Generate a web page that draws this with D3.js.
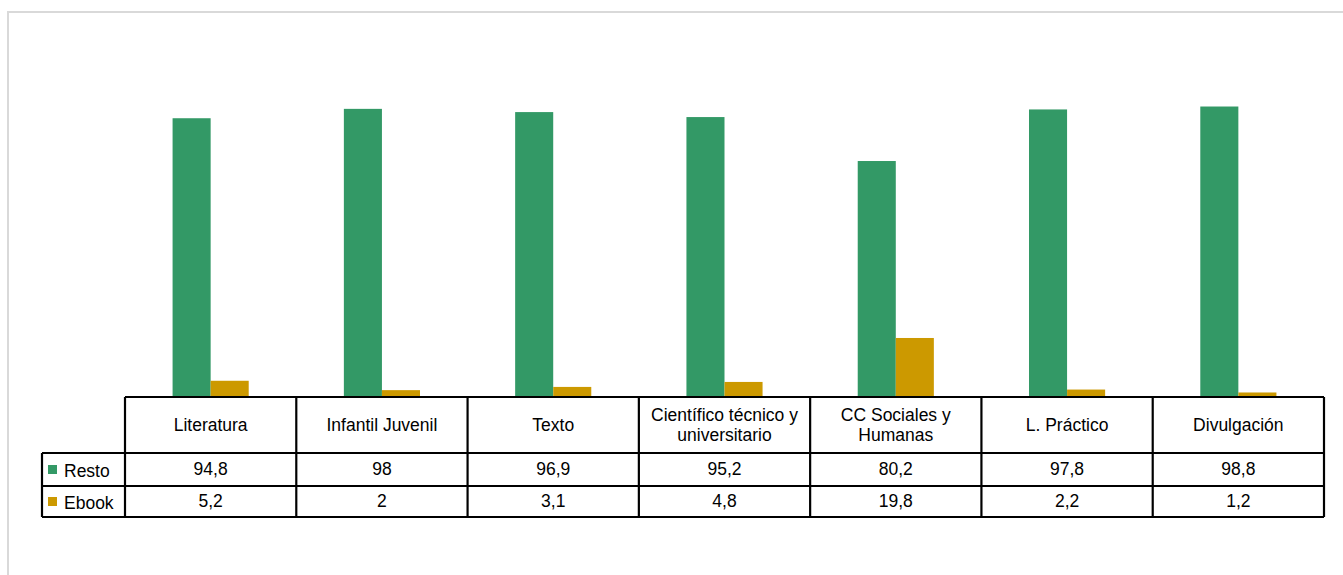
<!DOCTYPE html>
<html><head><meta charset="utf-8">
<script src="https://cdn.jsdelivr.net/npm/d3@7"></script>
<style>body{margin:0;background:#fff}svg{display:block}text{font-family:"Liberation Sans",Arial,sans-serif;fill:#000}</style>
</head><body><svg id="c" width="1343" height="575"></svg>
<script>
const categories = ["Literatura","Infantil Juvenil","Texto","Científico técnico y universitario","CC Sociales y Humanas","L. Práctico","Divulgación"];
const categoryLines = [["Literatura"],["Infantil Juvenil"],["Texto"],["Científico técnico y","universitario"],["CC Sociales y","Humanas"],["L. Práctico"],["Divulgación"]];
const seriesNames = ["Resto","Ebook"];
const resto = [94.8,98,96.9,95.2,80.2,97.8,98.8];
const ebook = [5.2,2,3.1,4.8,19.8,2.2,1.2];
const labelsResto = ["94,8","98","96,9","95,2","80,2","97,8","98,8"];
const labelsEbook = ["5,2","2","3,1","4,8","19,8","2,2","1,2"];
const colors = ["#339966","#CC9900"];

const svg = d3.select("#c");
svg.append("rect").attr("x",8).attr("y",12).attr("width",1345).attr("height",580)
  .attr("fill","none").attr("stroke","#d9d9d9").attr("stroke-width",2);

const left=125, right=1324, baseY=396, topY=103;
const x = d3.scaleBand().domain(categories).range([left,right]).paddingInner(0).paddingOuter(0);
const xs = d3.scaleBand().domain(seriesNames).range([0,x.bandwidth()]).paddingInner(0).paddingOuter(1.25);
const y = d3.scaleLinear().domain([0,100]).range([baseY,topY]);

const series=[resto,ebook];
series.forEach((vals,si)=>{
  svg.append("g").selectAll("rect").data(vals).join("rect")
    .attr("x",(d,i)=>x(categories[i])+xs(seriesNames[si]))
    .attr("width",xs.bandwidth())
    .attr("y",d=>y(d)).attr("height",d=>baseY-y(d))
    .attr("fill",colors[si]);
});

// table
const hTop=397, hBot=453, r1Bot=486, r2Bot=517, legL=42;
const g=svg.append("g").attr("stroke","#000").attr("stroke-width",2.2).attr("fill","none");
const line=(x1,y1,x2,y2)=>g.append("line").attr("x1",x1).attr("y1",y1).attr("x2",x2).attr("y2",y2);
line(left,hTop,right,hTop);
line(legL,hBot,right,hBot);
line(legL,r1Bot,right,r1Bot);
line(legL,r2Bot,right,r2Bot);
line(legL,hBot,legL,r2Bot);
categories.forEach(c=>line(x(c),hTop,x(c),r2Bot));
line(right,hTop,right,r2Bot);

const fs=17.5;
categories.forEach((c,i)=>{
  const cx=x(c)+x.bandwidth()/2;
  const lines=categoryLines[i];
  const cy=(hTop+hBot)/2;
  const lh=20.5;
  lines.forEach((t,k)=>{
    svg.append("text").attr("x",cx).attr("y",cy+(k-(lines.length-1)/2)*lh+6)
      .attr("text-anchor","middle").attr("font-size",fs).text(t);
  });
  svg.append("text").attr("x",cx).attr("y",(hBot+r1Bot)/2+5).attr("text-anchor","middle").attr("font-size",fs).text(labelsResto[i]);
  svg.append("text").attr("x",cx).attr("y",(r1Bot+r2Bot)/2+5.5).attr("text-anchor","middle").attr("font-size",fs).text(labelsEbook[i]);
});
const rows=[[hBot,r1Bot],[r1Bot,r2Bot]];
seriesNames.forEach((s,si)=>{
  const cy=(rows[si][0]+rows[si][1])/2;
  svg.append("rect").attr("x",48).attr("y",cy-4.5).attr("width",9).attr("height",9).attr("fill",colors[si]);
  svg.append("text").attr("x",64).attr("y",cy+7).attr("font-size",fs).text(s);
});
</script></body></html>
